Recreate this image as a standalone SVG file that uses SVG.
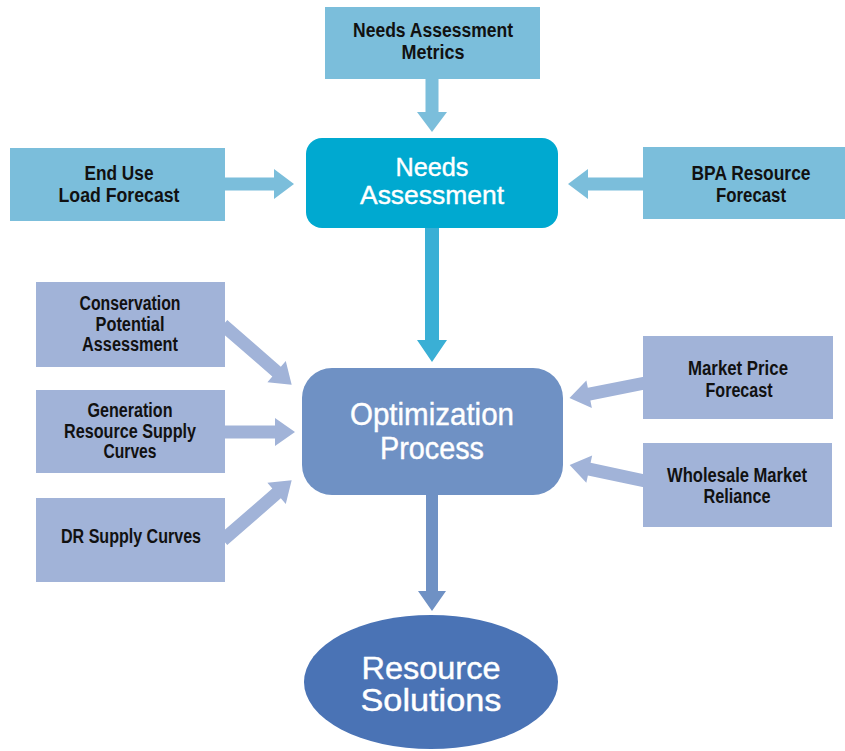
<svg xmlns="http://www.w3.org/2000/svg" width="845" height="751" viewBox="0 0 845 751">
<style>
.lb{fill:#7BBEDB}
.pb{fill:#A1B3D8}
.t{font-family:"Liberation Sans",Arial,sans-serif;font-weight:bold;font-size:20px;fill:#111;text-anchor:middle}
.w{font-family:"Liberation Sans",Arial,sans-serif;fill:#fff;stroke:#fff;stroke-width:0.4;text-anchor:middle}
.al{fill:#7BBEDB}
.ap{fill:#A1B3D8}
</style>
<rect width="845" height="751" fill="#fff"/>
<g id="connectors">
<polygon class="al" points="425.5,78 438.5,78 438.5,112 447,112 432,132 417,112 425.5,112"/>
<polygon class="al" points="222,177.5 274,177.5 274,169 294,184 274,199 274,190.5 222,190.5"/>
<polygon class="al" points="646,177.5 588,177.5 588,169 568,184 588,199 588,190.5 646,190.5"/>
<polygon fill="#3AAFD5" points="425,225 439,225 439,340 447,340 432,362 417,340 425,340"/>
<polygon class="ap" points="0,-6.5 71,-6.5 71,-14 91,0 71,14 71,6.5 0,6.5" transform="translate(223,325) rotate(41)"/>
<polygon class="ap" points="0,-6.5 50,-6.5 50,-14 70,0 50,14 50,6.5 0,6.5" transform="translate(225,432)"/>
<polygon class="ap" points="0,-6.5 71,-6.5 71,-14 91,0 71,14 71,6.5 0,6.5" transform="translate(223,540) rotate(-41)"/>
<polygon class="ap" points="0,-6.5 57,-6.5 57,-14 77,0 57,14 57,6.5 0,6.5" transform="translate(645,383) rotate(168.7)"/>
<polygon class="ap" points="0,-6.5 57,-6.5 57,-14 77,0 57,14 57,6.5 0,6.5" transform="translate(645,481) rotate(192)"/>
<polygon fill="#6F91C4" points="426,493 438,493 438,591 446,591 432,611 418,591 426,591"/>
</g>
<g id="metrics">
<rect class="lb" x="325" y="7" width="215" height="72"/>
<text class="t" x="433" y="37" textLength="160" lengthAdjust="spacingAndGlyphs">Needs Assessment</text>
<text class="t" x="433" y="59" textLength="63" lengthAdjust="spacingAndGlyphs">Metrics</text>
</g>
<g id="enduse">
<rect class="lb" x="10" y="148" width="215" height="73"/>
<text class="t" x="119" y="180" textLength="69" lengthAdjust="spacingAndGlyphs">End Use</text>
<text class="t" x="119" y="202" textLength="121" lengthAdjust="spacingAndGlyphs">Load Forecast</text>
</g>
<g id="bpa">
<rect class="lb" x="643" y="147" width="202" height="72"/>
<text class="t" x="751" y="180" textLength="119" lengthAdjust="spacingAndGlyphs">BPA Resource</text>
<text class="t" x="751" y="202" textLength="70" lengthAdjust="spacingAndGlyphs">Forecast</text>
</g>
<g id="needs">
<rect x="306" y="138" width="252" height="90" rx="16" fill="#00A9D0"/>
<text class="w" x="432" y="176" font-size="26" textLength="73" lengthAdjust="spacingAndGlyphs">Needs</text>
<text class="w" x="432" y="204" font-size="26" textLength="144" lengthAdjust="spacingAndGlyphs">Assessment</text>
</g>
<g id="conservation">
<rect class="pb" x="36" y="282" width="189" height="85"/>
<text class="t" x="130" y="310" textLength="101" lengthAdjust="spacingAndGlyphs">Conservation</text>
<text class="t" x="130" y="331" textLength="69" lengthAdjust="spacingAndGlyphs">Potential</text>
<text class="t" x="130" y="351" textLength="96" lengthAdjust="spacingAndGlyphs">Assessment</text>
</g>
<g id="generation">
<rect class="pb" x="36" y="390" width="189" height="83"/>
<text class="t" x="130" y="417" textLength="85" lengthAdjust="spacingAndGlyphs">Generation</text>
<text class="t" x="130" y="438" textLength="132" lengthAdjust="spacingAndGlyphs">Resource Supply</text>
<text class="t" x="130" y="458" textLength="53" lengthAdjust="spacingAndGlyphs">Curves</text>
</g>
<g id="dr">
<rect class="pb" x="36" y="498" width="189" height="84"/>
<text class="t" x="131" y="543" textLength="140" lengthAdjust="spacingAndGlyphs">DR Supply Curves</text>
</g>
<g id="market">
<rect class="pb" x="643" y="336" width="190" height="83"/>
<text class="t" x="738" y="375" textLength="100" lengthAdjust="spacingAndGlyphs">Market Price</text>
<text class="t" x="739" y="397" textLength="67" lengthAdjust="spacingAndGlyphs">Forecast</text>
</g>
<g id="wholesale">
<rect class="pb" x="643" y="443" width="189" height="84"/>
<text class="t" x="737" y="482" textLength="140" lengthAdjust="spacingAndGlyphs">Wholesale Market</text>
<text class="t" x="737" y="503" textLength="67" lengthAdjust="spacingAndGlyphs">Reliance</text>
</g>
<g id="optimization">
<rect x="302" y="368" width="261" height="127" rx="30" fill="#6F91C4"/>
<text class="w" x="432" y="425" font-size="31" textLength="164" lengthAdjust="spacingAndGlyphs">Optimization</text>
<text class="w" x="432" y="459" font-size="31" textLength="104" lengthAdjust="spacingAndGlyphs">Process</text>
</g>
<g id="solutions">
<ellipse cx="431" cy="682" rx="127" ry="67" fill="#4A73B5"/>
<text class="w" x="431" y="679" font-size="31" textLength="139" lengthAdjust="spacingAndGlyphs">Resource</text>
<text class="w" x="431" y="711" font-size="31" textLength="141" lengthAdjust="spacingAndGlyphs">Solutions</text>
</g>
</svg>
